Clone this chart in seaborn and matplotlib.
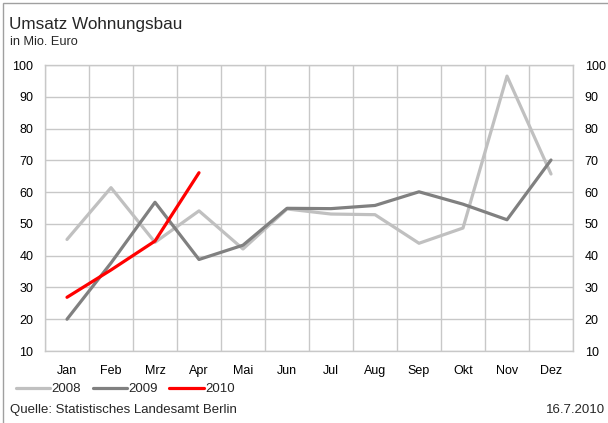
import numpy as np
import pandas as pd
import matplotlib
matplotlib.use("Agg")
import matplotlib.pyplot as plt
from matplotlib.patches import Rectangle
import seaborn as sns

months = ["Jan", "Feb", "Mrz", "Apr", "Mai", "Jun", "Jul", "Aug", "Sep", "Okt", "Nov", "Dez"]
umsatz_2008 = [45.1, 61.4, 44.2, 54.1, 42.1, 54.7, 53.1, 52.9, 43.9, 48.7, 96.5, 65.7]
umsatz_2009 = [20.0, 37.7, 56.8, 38.8, 43.3, 54.9, 54.8, 55.8, 60.1, 56.2, 51.3, 70.1]
umsatz_2010 = [26.9, 35.5, 44.6, 66.1]
years = ["2008", "2009", "2010"]
y_ticks = [10, 20, 30, 40, 50, 60, 70, 80, 90, 100]

rows = []
for year, vals in zip(years, [umsatz_2008, umsatz_2009, umsatz_2010]):
    for m, v in zip(months, vals):
        rows.append({"Monat": m, "Jahr": year, "Umsatz": v})
df = pd.DataFrame(rows)

sns.set_theme(style="white")
plt.rcParams["font.family"] = ["Liberation Sans", "DejaVu Sans"]

W, H = 608, 423
fig = plt.figure(figsize=(W / 100, H / 100), dpi=100)
ax = fig.add_axes([45 / W, 1 - 351 / H, (573 - 45) / W, (351 - 65) / H])

palette = {"2008": "#c0c0c0", "2009": "#808080", "2010": "#ff0000"}
sns.lineplot(data=df, x="Monat", y="Umsatz", hue="Jahr", palette=palette,
             linewidth=2.3, ax=ax, legend=False, sort=False, zorder=3)

ax.set_xlim(-0.5, 11.5)
ax.set_ylim(10, 100)
ax.set_yticks(y_ticks)
ax.set_xticks(range(len(months)))
ax.set_xticklabels(months)
ax.set_xticks(np.arange(-0.5, 12, 1), minor=True)
ax.set_xlabel("")
ax.set_ylabel("")

grid_c = "#c8c8c8"
ax.grid(False)
ax.grid(axis="y", which="major", color=grid_c, linewidth=1.0, zorder=0)
ax.grid(axis="x", which="minor", color=grid_c, linewidth=1.0, zorder=0)
for s in ax.spines.values():
    s.set_color(grid_c)
    s.set_linewidth(1.0)
ax.tick_params(axis="both", which="both", length=0, labelsize=9, colors="black")
ax.tick_params(axis="y", pad=8.5)
ax.tick_params(axis="x", pad=10)

ax2 = ax.twinx()
ax2.set_ylim(10, 100)
ax2.set_yticks(y_ticks)
ax2.tick_params(axis="y", length=0, labelsize=9, pad=8.5, colors="black")
for s in ax2.spines.values():
    s.set_visible(False)
ax2.grid(False)

fig.text(9 / W, 1 - 29 / H, "Umsatz Wohnungsbau", fontsize=12.3, va="baseline", ha="left")
fig.text(10 / W, 1 - 45 / H, "in Mio. Euro", fontsize=9.2, va="baseline", ha="left")

handles = [plt.Line2D([], [], color=palette[y], linewidth=2.3) for y in years]
fig.legend(handles, years, loc="center left", bbox_to_anchor=(16 / W, 1 - 389 / H),
           ncol=3, frameon=False, fontsize=9.5, handlelength=2.6, handletextpad=0.08,
           columnspacing=0.9, borderaxespad=0, borderpad=0)

fig.text(10 / W, 1 - 413 / H, "Quelle: Statistisches Landesamt Berlin", fontsize=9.5,
         va="baseline", ha="left")
fig.text(605 / W, 1 - 413 / H, "16.7.2010", fontsize=9.5, va="baseline", ha="right")

fig.patches.append(Rectangle((3 / W, -0.01), 1.0, 1 - 3 / H + 0.01, transform=fig.transFigure,
                             fill=False, edgecolor="#a0a0a0", linewidth=1.0))

fig.savefig("out.png", dpi=100)
